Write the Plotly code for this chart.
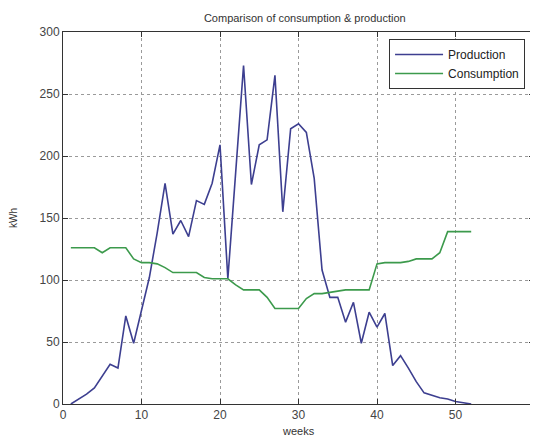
import plotly.graph_objects as go

weeks = list(range(1, 53))
production = [0, 4, 8, 13, 22, 32, 29, 71, 49, 76, 102, 138, 178, 137, 148, 135, 164, 161, 178, 209,
              101, 187, 273, 177, 209, 213, 265, 155, 222, 226, 219, 182, 108, 86, 86, 66, 82, 49, 74, 62,
              73, 31, 39, 29, 18, 9, 7, 5, 4, 2, 1, 0]
consumption = [126, 126, 126, 126, 122, 126, 126, 126, 117, 114, 114, 113, 110, 106, 106, 106, 106, 102, 101, 101,
               101, 96, 92, 92, 92, 86, 77, 77, 77, 77, 85, 89, 89, 90, 91, 92, 92, 92, 92, 113,
               114, 114, 114, 115, 117, 117, 117, 122, 139, 139, 139, 139]

fig = go.Figure()
fig.add_trace(go.Scatter(x=weeks, y=production, mode="lines", name="Production",
                         line=dict(color="#3d3f90", width=1.6)))
fig.add_trace(go.Scatter(x=weeks, y=consumption, mode="lines", name="Consumption",
                         line=dict(color="#3c9a4c", width=1.6)))

axis_common = dict(showline=True, linecolor="#333333", linewidth=1, mirror="ticks",
                   ticks="inside", ticklen=5, tickcolor="#333333",
                   showgrid=True, gridcolor="#9a9a9a", griddash="dot", gridwidth=1,
                   zeroline=False, tickfont=dict(size=12, color="#444444", family="Liberation Sans"))

fig.update_layout(
    width=530, height=431,
    margin=dict(l=54, r=3, t=24, b=35),
    paper_bgcolor="white", plot_bgcolor="white",
    title=dict(text="Comparison of consumption &amp; production", x=0.56, xanchor="center",
               y=0.977, yanchor="middle", font=dict(size=11, color="#333333", family="Liberation Sans")),
    xaxis=dict(range=[0, 60], dtick=10, **axis_common),
    yaxis=dict(range=[0, 300], dtick=50, **axis_common,
               title=dict(text="kWh", standoff=22, font=dict(size=10, color="#333333", family="Liberation Sans"))),
    legend=dict(x=0.981, y=0.981, xanchor="right", yanchor="top",
                bgcolor="white", bordercolor="#333333", borderwidth=1,
                font=dict(size=12, color="#222222", family="Liberation Sans"),
                itemwidth=48, tracegroupgap=0),
    showlegend=True,
    annotations=[dict(text="weeks", xref="paper", yref="paper", x=0.5, y=-0.072,
                      xanchor="center", yanchor="middle", showarrow=False,
                      font=dict(size=11, color="#333333", family="Liberation Sans"))],
)

fig.write_html("out.html")
